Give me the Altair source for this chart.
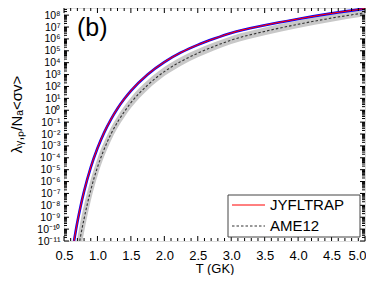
import altair as alt
import pandas as pd

# ---- data (rates given as log10 values) ----
T = [0.65, 0.70, 0.75, 0.80, 0.90, 1.00, 1.10, 1.20, 1.30, 1.40, 1.50,
     1.75, 2.00, 2.25, 2.50, 2.75, 3.00, 3.50, 4.00, 4.50, 5.00]
jyfl_log = [-11.0, -9.41, -8.03, -6.83, -4.81, -3.2, -1.88, -0.78, 0.15, 0.94, 1.63,
            3.01, 4.05, 4.86, 5.5, 6.03, 6.5, 7.15, 7.68, 8.15, 8.55]
ame_log = [-14.0, -12.16, -10.53, -9.13, -6.71, -4.8, -3.28, -2.03, -1.0, -0.14, 0.63,
           2.11, 3.25, 4.11, 4.8, 5.38, 5.9, 6.63, 7.23, 7.75, 8.2]
ame_lo_log = [-15.6, -13.61, -11.83, -10.28, -7.61, -5.55, -3.9, -2.58, -1.5, -0.61, 0.18,
              1.70, 2.87, 3.75, 4.45, 5.04, 5.57, 6.31, 6.92, 7.45, 7.9]
ame_hi_log = [-12.4, -10.71, -9.23, -7.98, -5.81, -4.05, -2.66, -1.48, -0.5, 0.33, 1.08,
              2.52, 3.63, 4.47, 5.15, 5.72, 6.23, 6.95, 7.54, 8.05, 8.5]

series_names = ["JYFLTRAP", "AME12"]
x_major = [0.5, 1.0, 1.5, 2.0, 2.5, 3.0, 3.5, 4.0, 4.5, 5.0]
x_minor = [round(0.5 + 0.1 * i, 1) for i in range(46) if i % 5 != 0]
y_exps = list(range(-11, 9))
y_major = [10.0 ** e for e in y_exps]
y_minor = [k * 10.0 ** e for e in range(-11, 9) for k in range(2, 10) if k * 10.0 ** e <= 10 ** 8.6]

# ---- tables ----
band_df = pd.DataFrame({"T": T,
                        "lo": [10 ** v for v in ame_lo_log],
                        "hi": [10 ** v for v in ame_hi_log]})
long_df = pd.concat([
    pd.DataFrame({"T": T, "rate": [10 ** v for v in jyfl_log], "series": "JYFLTRAP"}),
    pd.DataFrame({"T": T, "rate": [10 ** v for v in ame_log], "series": "AME12"}),
])
xmaj_df = pd.DataFrame({"v": x_major})
xmin_df = pd.DataFrame({"v": x_minor})
ymaj_df = pd.DataFrame({"v": y_major})
ymin_df = pd.DataFrame({"v": y_minor})

W, H = 301, 233
FONT = "Liberation Sans"

xscale = alt.Scale(domain=[0.5, 5.0], nice=False, zero=False)
yscale = alt.Scale(type="log", domain=[1e-11, 10 ** 8.6], nice=False)

sup = str.maketrans("0123456789-", "⁰¹²³⁴⁵⁶⁷⁸⁹⁻")
label_expr = ""
for e in y_exps:
    label_expr += f"round(log(datum.value)/LN10)=={e} ? '10{str(e).translate(sup)}' : "
label_expr += "''"

x_axis = alt.Axis(values=x_major, format=".1f", ticks=False, tickSize=0, domain=False, grid=False,
                  labelFlush=False, labelOverlap=False,
                  labelAlign={"condition": {"test": "datum.value >= 4.99", "value": "right"}, "value": "center"},
                  labelOffset={"condition": {"test": "datum.value >= 4.99", "value": 1}, "value": 0},
                  labelFont=FONT, labelFontSize=13, labelColor="black", labelPadding=8,
                  title="T (GK)", titleFont=FONT, titleFontSize=13, titleFontWeight="normal",
                  titleColor="black", titleY=31, titleBaseline="alphabetic")
y_axis = alt.Axis(values=y_major, labelExpr=label_expr, ticks=False, tickSize=0, domain=False, grid=False,
                  labelFlush=False, labelOverlap=False,
                  labelFont=FONT, labelFontSize=10.5, labelColor="black", labelPadding=4,
                  title="λᵧ,ₚ/Nₐ<σv>", titleFont=FONT, titleFontSize=15, titleFontWeight="normal",
                  titleColor="black", titleX=-48, titleY=106, titleAlign="center",
                  titleBaseline="middle", titleAngle=-90)

X = lambda f: alt.X(f, scale=xscale, axis=x_axis)
Y = lambda f: alt.Y(f, scale=yscale, axis=y_axis)

band = alt.Chart(band_df).mark_area(clip=True, interpolate="monotone", color="#c8c8c8").encode(
    x=X("T:Q"), y=Y("lo:Q"), y2="hi:Q",
)

blue = alt.Chart(long_df).transform_filter(alt.datum.series == "JYFLTRAP").mark_line(
    clip=True, interpolate="monotone", color="#0000ff", strokeWidth=2.6).encode(
    x=X("T:Q"), y=Y("rate:Q"),
)

lines = alt.Chart(long_df).mark_line(clip=True, interpolate="monotone", strokeWidth=1.1).encode(
    x=X("T:Q"), y=Y("rate:Q"),
    color=alt.Color("series:N", scale=alt.Scale(domain=series_names, range=["#ff0000", "#333333"]),
                    legend=None),
    strokeDash=alt.StrokeDash("series:N", scale=alt.Scale(domain=series_names, range=[[1, 0], [2.5, 2]]),
                              legend=None),
)

def xticks(df, length):
    bottom = alt.Chart(df).mark_rule(color="black", strokeWidth=1).encode(
        x=X("v:Q"), y=alt.value(H), y2=alt.value(H - length))
    top = alt.Chart(df).mark_rule(color="black", strokeWidth=1).encode(
        x=X("v:Q"), y=alt.value(0), y2=alt.value(length))
    return [bottom, top]

def yticks(df, length):
    left = alt.Chart(df).mark_rule(color="black", strokeWidth=1).encode(
        y=Y("v:Q"), x=alt.value(0), x2=alt.value(length))
    right = alt.Chart(df).mark_rule(color="black", strokeWidth=1).encode(
        y=Y("v:Q"), x=alt.value(W), x2=alt.value(W - length))
    return [left, right]

label_b = alt.Chart(pd.DataFrame({"t": ["(b)"]})).mark_text(
    align="left", baseline="alphabetic", fontSize=25, font=FONT, color="black").encode(
    text="t:N", x=alt.value(13), y=alt.value(28))

# ---- hand-built legend box (layout in pixels) ----
one = pd.DataFrame({"k": [0]})
leg_box = alt.Chart(one).mark_rect(fill="white", stroke="#444444", strokeWidth=1).encode(
    x=alt.value(164), x2=alt.value(296), y=alt.value(187), y2=alt.value(229))
leg_sym1 = alt.Chart(one).mark_rule(color="#ff0000", strokeWidth=1).encode(
    x=alt.value(168), x2=alt.value(201), y=alt.value(197))
leg_sym2 = alt.Chart(one).mark_rule(color="#333333", strokeWidth=1, strokeDash=[2.5, 2]).encode(
    x=alt.value(168), x2=alt.value(201), y=alt.value(218))
leg_txt1 = alt.Chart(pd.DataFrame({"t": [series_names[0]]})).mark_text(
    align="left", baseline="middle", fontSize=15, font=FONT, color="black").encode(
    text="t:N", x=alt.value(206), y=alt.value(197))
leg_txt2 = alt.Chart(pd.DataFrame({"t": [series_names[1]]})).mark_text(
    align="left", baseline="middle", fontSize=15, font=FONT, color="black").encode(
    text="t:N", x=alt.value(206), y=alt.value(218))

layers = [band, blue, lines] + xticks(xmaj_df, 5) + xticks(xmin_df, 3) + \
         yticks(ymaj_df, 5) + yticks(ymin_df, 3) + [label_b, leg_box, leg_sym1, leg_sym2, leg_txt1, leg_txt2]

chart = alt.layer(*layers).properties(
    width=W, height=H,
    autosize=alt.AutoSizeParams(type="none"),
    padding={"left": 56, "top": 0, "right": 1, "bottom": 34},
).configure_view(stroke="black", strokeWidth=1.2).configure(background="white")

chart.save("out.html", embed_options={"renderer": "svg", "actions": False})
